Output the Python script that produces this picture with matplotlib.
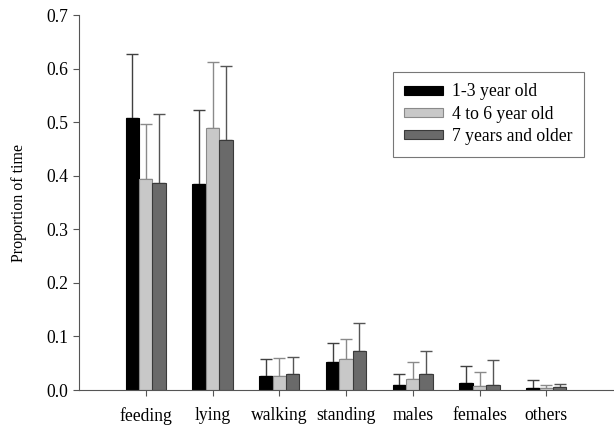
import matplotlib.pyplot as plt
import numpy as np

plt.rcParams['font.family'] = ['Liberation Serif', 'DejaVu Serif']

categories = ["feeding", "lying", "walking", "standing", "males", "females", "others"]
groups = ["1-3 year old", "4 to 6 year old", "7 years and older"]

# means and upper error-bar tops
young = [0.507, 0.385, 0.027, 0.052, 0.009, 0.013, 0.004]
young_top = [0.628, 0.522, 0.057, 0.087, 0.030, 0.045, 0.019]
mid = [0.394, 0.489, 0.027, 0.057, 0.020, 0.007, 0.004]
mid_top = [0.496, 0.613, 0.059, 0.096, 0.053, 0.033, 0.010]
old = [0.386, 0.466, 0.029, 0.072, 0.030, 0.009, 0.005]
old_top = [0.516, 0.605, 0.061, 0.126, 0.072, 0.056, 0.012]

fills = ["#000000", "#c8c8c8", "#6a6a6a"]
edges = ["#000000", "#8a8a8a", "#3a3a3a"]
errcols = ["#404040", "#8a8a8a", "#555555"]

fig = plt.figure(figsize=(6.14, 4.26), dpi=100)
ax = fig.add_axes([0.1287, 0.0845, 0.8697, 0.880])

x = np.arange(len(categories))
w = 0.2
series = [(young, young_top), (mid, mid_top), (old, old_top)]
for i, (vals, tops) in enumerate(series):
    vals = np.array(vals)
    tops = np.array(tops)
    pos = x + (i - 1) * w
    ax.bar(pos, vals, width=w, color=fills[i], edgecolor=edges[i],
           linewidth=0.8, label=groups[i], zorder=2)
    ax.errorbar(pos, vals, yerr=[np.zeros_like(vals), tops - vals],
                fmt="none", ecolor=errcols[i], elinewidth=1.0,
                capsize=4.3, capthick=1.0, zorder=1)

ax.set_xlim(-1, 7)
ax.set_ylim(0, 0.7)
ax.set_yticks(np.arange(0, 0.71, 0.1))
ax.set_yticklabels([f"{v:.1f}" for v in np.arange(0, 0.71, 0.1)])
ax.set_xticks(x)
ax.set_xticklabels(categories)
ax.set_ylabel("Proportion of time", fontsize=11.5, labelpad=14)
ax.tick_params(labelsize=12.7, length=4, color="#555555")
ax.tick_params(axis="x", pad=8)
for s in ["top", "right"]:
    ax.spines[s].set_visible(False)
for s in ["left", "bottom"]:
    ax.spines[s].set_color("#555555")

leg = ax.legend(loc="upper left", bbox_to_anchor=(0.640, 0.831),
                bbox_transform=fig.transFigure, borderaxespad=0,
                fontsize=12.7, fancybox=False, frameon=True,
                handlelength=2.2, handleheight=0.4, labelspacing=0.3,
                borderpad=0.65, handletextpad=0.5)
leg.get_frame().set_edgecolor("#555555")
leg.get_frame().set_linewidth(0.8)

fig.savefig("out.png", dpi=100)
